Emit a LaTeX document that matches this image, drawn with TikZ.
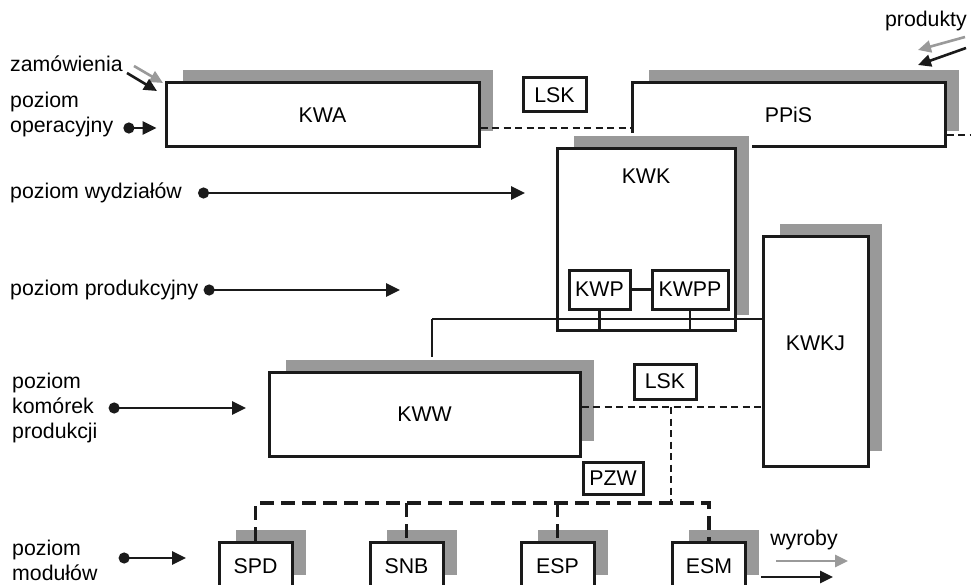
\documentclass[tikz,border=0pt]{standalone}
\usepackage{fontspec}
\setmainfont{Liberation Sans}
\usetikzlibrary{arrows.meta,shadows,backgrounds,positioning}
\definecolor{dgshade}{HTML}{999999}
\definecolor{dgink}  {HTML}{1A1A1A}
\definecolor{dgflow} {HTML}{9A9A9A}
\newcommand{\dglbl}{\fontsize{21.3}{25}\selectfont}
\tikzset{
  unit/.style={draw=dgink, line width=3pt, fill=white, inner sep=2pt, font=\dglbl},
  shunit/.style={unit, general shadow={shadow xshift=15pt, shadow yshift=14pt,
      fill=dgshade, draw=white, line width=3pt}},
  lvltext/.style={font=\dglbl, align=left, anchor=west, inner sep=0pt},
  lvlarrow/.style={dgink, line width=2.6pt,
      {Circle[length=11pt]}-{Triangle[length=14pt,width=13pt]}},
  flowarrow/.style={line width=2.6pt, -{Triangle[length=13pt,width=12pt]}},
  lsknet/.style={dgink, line width=2.8pt, dash pattern=on 7pt off 4.5pt},
  busnet/.style={dgink, line width=3.8pt, dash pattern=on 14pt off 7pt},
  link/.style={dgink, line width=2.5pt},
}

\begin{document}
\begin{tikzpicture}[x=1pt, y=-1pt]
  \clip (0,0) rectangle (971,585);
  % poziom operacyjny
  \node[shunit, minimum width=313pt, minimum height=64pt] (kwa) at (322.5,115) {KWA};
  \node[shunit, minimum width=313pt, minimum height=64pt] (ppis) at (788.5,115) {PPiS};
  \node[unit, minimum width=63pt, minimum height=34pt] (lsktop) at (554.5,95) {LSK};
  \draw[lsknet] ([yshift=-13pt]kwa.east) -- ([yshift=-13pt]ppis.west);
  \coordinate (ppisout) at (971,135);
  \draw[lsknet] (ppis.east |- ppisout) -- (ppisout);

  % wydzial i kontrola jakosci
  \node[shunit, minimum width=178pt, minimum height=181pt,
        label={[below=18pt, font=\dglbl]north:KWK}] (kwk) at (646,239.5) {};
  \node[unit, minimum width=61pt, minimum height=39pt] (kwp) at (599.5,289.5) {KWP};
  \node[unit, minimum width=76pt, minimum height=39pt] (kwpp) at (690,289.5) {KWPP};
  \draw[link] (kwp) -- (kwpp);
  \node[shunit, minimum width=105pt, minimum height=229pt, text depth=16pt]
        (kwkj) at (815.5,351.5) {KWKJ};
  \node[shunit, minimum width=311pt, minimum height=84pt] (kww) at (424.5,414) {KWW};

  \coordinate (kbus) at (432,319);
  \draw[link] (kbus) -- (kbus -| kwkj.west);
  \draw[link] (kwp.south) -- (kwp.south |- kwk.south);
  \draw[link] (kwpp.south) -- (kwpp.south |- kwk.south);
  \begin{pgfonlayer}{background}
    \draw[link] (kbus) -- (kbus |- kww.north);
  \end{pgfonlayer}

  % siec komorek
  \node[unit, minimum width=62pt, minimum height=35pt] (lskmid) at (665,381.5) {LSK};
  \draw[lsknet] ([yshift=7pt]kww.east) -- ([yshift=7pt]kww.east -| kwkj.west);
  \coordinate (pzwjoin) at (671,407);
  \coordinate (mbus) at (671,503);
  \draw[lsknet] (pzwjoin) -- (mbus);
  \node[unit, minimum width=60pt, minimum height=32pt] (pzw) at (613,478) {PZW};

  % moduly
  \foreach \m/\x/\t in {spd/255.5/SPD, snb/406.5/SNB, esp/557.5/ESP, esm/709/ESM}
    {\node[shunit, minimum width=73pt, minimum height=48pt] (\m) at (\x,566) {\t};}
  \draw[busnet] (spd.north) -- (spd.north |- mbus) -- (esm.north |- mbus) -- (esm.north);
  \foreach \m in {snb,esp}
    {\draw[busnet] (\m.north |- mbus) -- (\m.north);}

  % poziomy
  \node[lvltext] (lvlop) at (10,114) {poziom\\operacyjny};
  \draw[lvlarrow] ([xshift=10pt,yshift=-14pt]lvlop.east) -- ([xshift=-8pt,yshift=-13pt]kwa.west);
  \node[lvltext] (lvlwyd) at (10,193) {poziom wydziałów};
  \coordinate (wydend) at (525,193);
  \draw[lvlarrow] ([xshift=16pt]lvlwyd.east) -- (wydend);
  \node[lvltext] (lvlprod) at (10,290) {poziom produkcyjny};
  \coordinate (prodend) at (400,290);
  \draw[lvlarrow] ([xshift=5pt]lvlprod.east) -- (prodend);
  \node[lvltext] (lvlkom) at (12,408) {poziom\\komórek\\produkcji};
  \coordinate (komend) at (246,408);
  \draw[lvlarrow] ([xshift=11pt]lvlkom.east) -- (komend);
  \node[lvltext] (lvlmod) at (12,560) {poziom\\modułów};
  \coordinate (modend) at (186,558);
  \draw[lvlarrow] ([xshift=21pt,yshift=2pt]lvlmod.east) -- (modend);

  % przeplywy
  \node[lvltext] (zam) at (10,64) {zamówienia};
  \coordinate (zamg0) at (134,66);  \coordinate (zamg1) at (163,83);
  \coordinate (zamb0) at (127,73);  \coordinate (zamb1) at (157,91);
  \draw[flowarrow, dgflow] (zamg0) -- (zamg1);
  \draw[flowarrow, dgink] (zamb0) -- (zamb1);
  \node[lvltext, anchor=east] (prd) at (967,21) {produkty};
  \coordinate (prdg0) at (965,37);  \coordinate (prdg1) at (918,50);
  \coordinate (prdb0) at (966,48);  \coordinate (prdb1) at (918,65);
  \draw[flowarrow, dgflow] (prdg0) -- (prdg1);
  \draw[flowarrow, dgink] (prdb0) -- (prdb1);
  \node[lvltext, anchor=center] (wyr) at (804,540) {wyroby};
  \coordinate (wyrg0) at (776,561); \coordinate (wyrg1) at (848,561);
  \coordinate (wyrb0) at (761,577); \coordinate (wyrb1) at (833,577);
  \draw[flowarrow, dgflow] (wyrg0) -- (wyrg1);
  \draw[flowarrow, dgink] (wyrb0) -- (wyrb1);
\end{tikzpicture}
\end{document}
